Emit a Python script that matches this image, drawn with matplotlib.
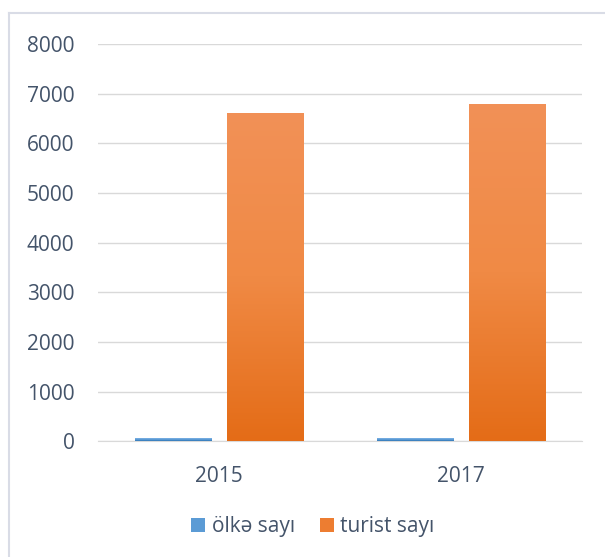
import numpy as np
import matplotlib.pyplot as plt
from matplotlib.colors import LinearSegmentedColormap
from matplotlib.lines import Line2D

# data
years = ['2015', '2017']
olke_sayi = [60, 60]
turist_sayi = [6620, 6800]
series_names = ['ölkə sayı', 'turist sayı']

plt.rcParams['font.family'] = ['Open Sans', 'DejaVu Sans']
txt = '#44546A'

fig = plt.figure(figsize=(6.05, 5.57), dpi=100)
ax = fig.add_axes([0.162, 0.208, 0.800, 0.713])

x = np.arange(len(years))
w = 0.315
off = 0.19

blue_cm = LinearSegmentedColormap.from_list('b', ['#2E75B6', '#5B9BD5', '#7FB2E5'])
orange_cm = LinearSegmentedColormap.from_list('o', ['#E46C17', '#F08A45', '#F29157'])

b1 = ax.bar(x - off, olke_sayi, w, color='#5B9BD5', label=series_names[0], zorder=2)
b2 = ax.bar(x + off, turist_sayi, w, color='#ED7D31', label=series_names[1], zorder=2)

# vertical gradient inside each bar
grad = np.linspace(0, 1, 256).reshape(-1, 1)
for bars, cm in ((b1, blue_cm), (b2, orange_cm)):
    for bar in bars:
        x0, y0 = bar.get_x(), bar.get_y()
        bw, bh = bar.get_width(), bar.get_height()
        im = ax.imshow(grad, cmap=cm, origin='lower', aspect='auto',
                       extent=[x0, x0 + bw, y0, y0 + bh], zorder=3)
        im.set_clip_path(bar)

ax.set_xlim(-0.5, 1.5)
ax.set_ylim(0, 8000)
ax.set_yticks(range(0, 8001, 1000))
ax.set_xticks(x)
ax.set_xticklabels(years)
ax.grid(axis='y', color='#D9D9D9', linewidth=1, zorder=0)
for s in ['top', 'right', 'left']:
    ax.spines[s].set_visible(False)
ax.spines['bottom'].set_color('#D9D9D9')
ax.tick_params(length=0, labelsize=15, labelcolor=txt)
ax.tick_params(axis='y', pad=17)
ax.tick_params(axis='x', pad=18)

leg = fig.legend(handles=[b1, b2], labels=series_names, loc='center',
                 bbox_to_anchor=(0.517, 0.054), ncol=2, frameon=False,
                 fontsize=15, handlelength=0.67, handleheight=0.67,
                 handletextpad=0.3, columnspacing=1.2)
for t in leg.get_texts():
    t.set_color(txt)

# chart frame: only top and left edges show in the crop
fig.add_artist(Line2D([9 / 605, 1], [1 - 13 / 557] * 2, transform=fig.transFigure,
                      color='#D9DCE6', linewidth=1.5))
fig.add_artist(Line2D([9 / 605] * 2, [0, 1 - 13 / 557], transform=fig.transFigure,
                      color='#D9DCE6', linewidth=1.5))

fig.savefig('out.png', dpi=100)
